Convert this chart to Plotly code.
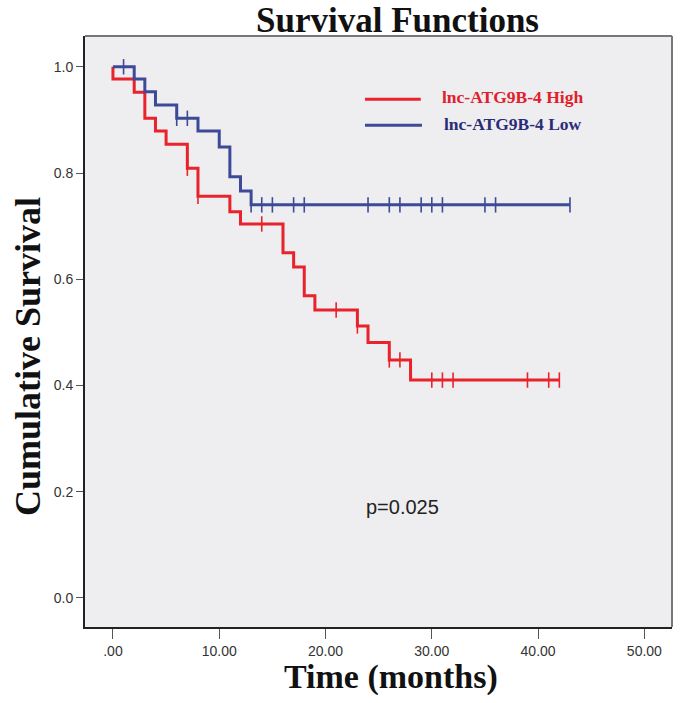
import plotly.graph_objects as go

# ---- data ----
high_event_times = [0, 2, 3, 4, 5, 7, 8, 11, 12, 16, 17, 18, 19, 23, 24, 26, 28]
high_survival = [0.977, 0.952, 0.903, 0.879, 0.854, 0.809, 0.756, 0.727, 0.704,
                 0.650, 0.623, 0.569, 0.542, 0.512, 0.481, 0.448, 0.410]
high_censor_times = [7, 8, 14, 21, 23, 26, 27, 30, 31, 32, 39, 41, 42]

low_event_times = [2, 3, 4, 6, 8, 10, 11, 12, 13]
low_survival = [0.977, 0.953, 0.928, 0.903, 0.879, 0.849, 0.793, 0.766, 0.740]
low_censor_times = [1, 6, 7, 13, 14, 15, 17, 18, 24, 26, 27, 29, 30, 31, 35, 36, 43]

x_tickvals = [0, 10, 20, 30, 40, 50]
x_ticktext = [".00", "10.00", "20.00", "30.00", "40.00", "50.00"]
y_tickvals = [0.0, 0.2, 0.4, 0.6, 0.8, 1.0]
y_ticktext = ["0.0", "0.2", "0.4", "0.6", "0.8", "1.0"]

group_names = ["lnc-ATG9B-4 High", "lnc-ATG9B-4 Low"]
p_text = "p=0.025"

RED = "#E8232B"
BLUE = "#3C4A98"
RED_TXT = "#E0202C"
BLUE_TXT = "#2B2C78"


def surv_at(t, times, surv):
    s = 1.0
    for ti, si in zip(times, surv):
        if ti <= t:
            s = si
    return s


def step_xy(times, surv, end):
    xs = [0] + list(times) + [end]
    ys = [1.0] + list(surv) + [surv[-1]]
    return xs, ys


fig = go.Figure()

for times, surv, cens, col in [
    (high_event_times, high_survival, high_censor_times, RED),
    (low_event_times, low_survival, low_censor_times, BLUE),
]:
    xs, ys = step_xy(times, surv, max(cens))
    fig.add_trace(go.Scatter(x=xs, y=ys, mode="lines", line=dict(color=col, width=3, shape="hv"),
                             showlegend=False, hoverinfo="skip"))
    fig.add_trace(go.Scatter(x=cens, y=[surv_at(c, times, surv) for c in cens], mode="markers",
                             marker=dict(symbol="line-ns", size=11,
                                         line=dict(color=col, width=1.6)),
                             showlegend=False, hoverinfo="skip"))

serif = "Liberation Serif"
sans = "Liberation Sans"

annotations = [
    dict(text="<b>Survival Functions</b>", x=0.533, y=1.027, xref="paper", yref="paper",
         showarrow=False, font=dict(family=serif, size=35, color="#111"), xanchor="center", yanchor="middle"),
    dict(text="<b>Cumulative Survival</b>", x=-0.097, y=0.457, xref="paper", yref="paper",
         showarrow=False, textangle=-90, font=dict(family=serif, size=36, color="#111"),
         xanchor="center", yanchor="middle"),
    dict(text="<b>Time (months)</b>", x=0.521, y=-0.085, xref="paper", yref="paper",
         showarrow=False, font=dict(family=serif, size=34, color="#111"), xanchor="center", yanchor="middle"),
    dict(text="<b>" + group_names[0] + "</b>", x=0.605, y=0.897, xref="paper", yref="paper",
         showarrow=False, font=dict(family=serif, size=17.5, color=RED_TXT), xanchor="left", yanchor="middle"),
    dict(text="<b>" + group_names[1] + "</b>", x=0.608, y=0.851, xref="paper", yref="paper",
         showarrow=False, font=dict(family=serif, size=17.5, color=BLUE_TXT), xanchor="left", yanchor="middle"),
    dict(text=p_text, x=27.2, y=0.171, xref="x", yref="y", showarrow=False,
         font=dict(family=sans, size=20, color="#222"), xanchor="center", yanchor="middle"),
]

shapes = [
    dict(type="line", xref="paper", yref="paper", x0=0.477, x1=0.572, y0=0.893, y1=0.893,
         line=dict(color=RED, width=3)),
    dict(type="line", xref="paper", yref="paper", x0=0.477, x1=0.574, y0=0.849, y1=0.849,
         line=dict(color=BLUE, width=3)),
    # lighter top/right frame
    dict(type="line", xref="paper", yref="paper", x0=0, x1=1, y0=1, y1=1,
         line=dict(color="#777", width=2)),
    dict(type="line", xref="paper", yref="paper", x0=1, x1=1, y0=0, y1=1,
         line=dict(color="#777", width=2)),
]

fig.update_layout(
    width=680, height=703,
    margin=dict(l=85, r=8, t=36, b=76, autoexpand=False),
    paper_bgcolor="white",
    plot_bgcolor="#EEEDEF",
    annotations=annotations,
    shapes=shapes,
    xaxis=dict(range=[-2.63, 52.6], tickvals=x_tickvals, ticktext=x_ticktext,
               showgrid=False, zeroline=False, showline=True, linecolor="#222", linewidth=2,
               ticks="outside", ticklen=10, tickwidth=1, tickcolor="#555",
               tickfont=dict(family=sans, size=14, color="#333")),
    yaxis=dict(range=[-0.055, 1.058], tickvals=y_tickvals, ticktext=y_ticktext,
               showgrid=False, zeroline=False, showline=True, linecolor="#222", linewidth=2,
               ticks="outside", ticklen=7, tickwidth=1, tickcolor="#555",
               tickfont=dict(family=sans, size=14, color="#333")),
)

fig.write_html("out.html", config={"displayModeBar": False},
               post_script="document.body.style.margin='0';document.body.style.overflow='hidden';")
